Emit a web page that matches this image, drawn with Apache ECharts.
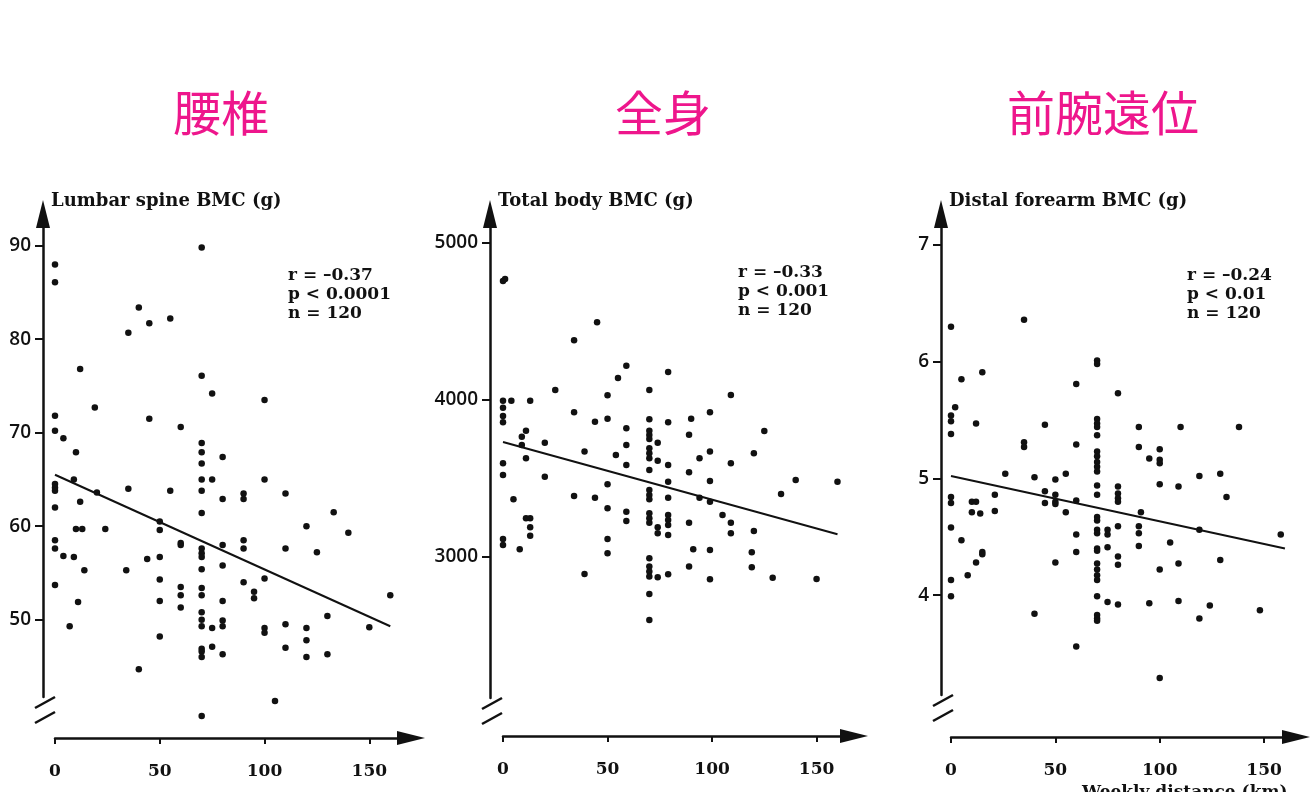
<!DOCTYPE html>
<html>
<head>
<meta charset="utf-8">
<title>BMC vs weekly distance</title>
<script src="https://cdn.jsdelivr.net/npm/echarts@6/dist/echarts.min.js"></script>
<style>
	*{
		margin:0;
		padding:0;
	}
	#main{
		width:1316px;
		height:792px;
		background:#fff;
	}
</style>
</head>
<body>
<div id="main"></div>
<script>
// 横轴刻度 (Weekly distance, km)
var distanceTicks = [0, 50, 100, 150];
// 纵轴刻度
var lumbarTicks = [50, 60, 70, 80, 90];
var totalTicks = [3000, 4000, 5000];
var forearmTicks = [4, 5, 6, 7];

var panelTitles = ['腰椎', '全身', '前腕遠位'];
var axisNames = ['Lumbar spine BMC (g)', 'Total body BMC (g)', 'Distal forearm BMC (g)'];
var lumbarStats = ['r = –0.37', 'p < 0.0001', 'n = 120'];
var totalStats = ['r = –0.33', 'p < 0.001', 'n = 120'];
var forearmStats = ['r = –0.24', 'p < 0.01', 'n = 120'];

// [km, g]
var lumbarPoints = [
	[70,89.8],[0,88.0],[0,86.1],[40,83.4],[45,81.7],[55,82.2],[35,80.7],[12,76.8],[70,76.1],[75,74.2],
	[100,73.5],[19,72.7],[0,71.8],[45,71.5],[60,70.6],[0,70.2],[4,69.4],[10,67.9],[70,68.9],[70,67.9],
	[70,66.7],[80,67.4],[70,65.0],[75,65.0],[100,65.0],[70,63.8],[55,63.8],[35,64.0],[9,65.0],[0,64.5],
	[0,64.1],[0,63.8],[0,62.0],[110,63.5],[90,63.5],[90,62.9],[80,62.9],[70,61.4],[133,61.5],[20,63.6],
	[12,62.6],[10,59.7],[13,59.7],[24,59.7],[50,60.5],[50,59.6],[60,58.2],[60,58.0],[70,57.6],[70,57.1],
	[70,56.7],[80,58.0],[90,58.5],[90,57.6],[120,60.0],[140,59.3],[110,57.6],[125,57.2],[0,58.5],[0,57.6],
	[4,56.8],[9,56.7],[14,55.3],[34,55.3],[44,56.5],[50,56.7],[70,55.4],[80,55.8],[0,53.7],[50,54.3],
	[60,53.5],[60,52.6],[70,53.4],[70,52.6],[90,54.0],[100,54.4],[95,53.0],[95,52.3],[11,51.9],[50,52.0],
	[60,51.3],[80,52.0],[160,52.6],[70,50.8],[70,50.0],[70,49.3],[75,49.1],[80,49.9],[80,49.3],[7,49.3],
	[130,50.4],[100,49.1],[100,48.6],[110,49.5],[120,49.1],[150,49.2],[50,48.2],[120,47.8],[70,46.9],[70,46.6],
	[70,46.0],[75,47.1],[80,46.3],[110,47.0],[120,46.0],[130,46.3],[40,44.7],[105,41.3],[70,39.7]
];
var lumbarFit = [[0, 65.5], [160, 49.3]];

var totalPoints = [
	[0,4756],[1,4769],[45,4492],[34,4378],[59,4216],[55,4137],[79,4176],[70,4061],[25,4061],[50,4027],
	[109,4029],[0,3993],[0,3948],[0,3895],[0,3855],[4,3993],[13,3993],[34,3919],[44,3859],[50,3878],
	[70,3874],[79,3855],[90,3878],[99,3919],[59,3817],[70,3801],[70,3774],[70,3749],[89,3776],[125,3800],
	[9,3763],[11,3801],[9,3710],[20,3725],[59,3710],[74,3725],[70,3689],[70,3657],[70,3625],[11,3625],
	[39,3668],[54,3647],[59,3583],[74,3610],[79,3583],[94,3625],[99,3668],[109,3594],[120,3657],[0,3594],
	[0,3519],[20,3508],[70,3551],[89,3536],[79,3476],[99,3481],[140,3487],[160,3476],[5,3364],[34,3385],
	[44,3374],[50,3460],[70,3423],[70,3392],[70,3364],[79,3374],[94,3374],[99,3349],[133,3398],[50,3307],
	[59,3285],[59,3226],[70,3275],[70,3243],[70,3215],[79,3264],[79,3232],[79,3200],[74,3186],[74,3147],
	[89,3215],[105,3264],[109,3215],[109,3147],[120,3162],[13,3243],[13,3186],[13,3132],[11,3243],[79,3137],
	[0,3111],[0,3073],[8,3045],[50,3111],[50,3020],[91,3045],[99,3041],[119,3026],[70,2988],[70,2935],
	[70,2903],[70,2871],[89,2935],[119,2931],[39,2888],[74,2867],[79,2886],[99,2854],[129,2864],[150,2856],
	[70,2760],[70,2595]
];
var totalFit = [[0, 3729], [160, 3141]];

var forearmPoints = [
	[0,6.30],[35,6.36],[70,6.01],[70,5.98],[5,5.85],[15,5.91],[60,5.81],[80,5.73],[2,5.61],[0,5.54],
	[0,5.49],[12,5.47],[45,5.46],[70,5.51],[70,5.47],[70,5.44],[90,5.44],[110,5.44],[138,5.44],[0,5.38],
	[70,5.37],[35,5.31],[35,5.27],[60,5.29],[90,5.27],[70,5.23],[70,5.19],[70,5.14],[70,5.10],[70,5.06],
	[100,5.25],[95,5.17],[100,5.16],[100,5.13],[26,5.04],[40,5.01],[55,5.04],[50,4.99],[70,4.94],[70,4.86],
	[119,5.02],[129,5.04],[100,4.95],[109,4.93],[80,4.93],[80,4.87],[80,4.83],[80,4.80],[132,4.84],[0,4.84],
	[0,4.79],[10,4.80],[12,4.80],[21,4.86],[45,4.89],[45,4.79],[50,4.86],[50,4.80],[50,4.78],[60,4.81],
	[10,4.71],[14,4.70],[21,4.72],[55,4.71],[91,4.71],[70,4.67],[70,4.64],[0,4.58],[60,4.52],[70,4.56],
	[70,4.53],[75,4.56],[75,4.52],[80,4.59],[90,4.59],[90,4.53],[119,4.56],[158,4.52],[5,4.47],[105,4.45],
	[75,4.41],[90,4.42],[70,4.40],[70,4.38],[15,4.37],[15,4.35],[60,4.37],[80,4.33],[80,4.26],[12,4.28],
	[50,4.28],[70,4.27],[70,4.22],[70,4.17],[70,4.13],[109,4.27],[129,4.30],[100,4.22],[8,4.17],[0,4.13],
	[0,3.99],[70,3.99],[75,3.94],[80,3.92],[95,3.93],[109,3.95],[124,3.91],[148,3.87],[40,3.84],[70,3.83],
	[70,3.80],[70,3.78],[119,3.80],[60,3.56],[100,3.29]
];
var forearmFit = [[0, 5.02], [160, 4.40]];

// 版面 (像素)
var layout = [
	{left:55,  top:214, width:356, height:483, xMax:169.9, yMin:41.73, yMax:93.39, yOff:12, xOff:41, titleX:221,  statX:288,  statY:266},
	{left:503, top:214, width:351, height:484, xMax:167.9, yMin:2097,  yMax:5183,  yOff:13, xOff:38, titleX:663,  statX:738,  statY:263},
	{left:951, top:214, width:345, height:481, xMax:165.3, yMin:3.144, yMax:7.266, yOff:10, xOff:42, titleX:1103, statX:1187, statY:266}
];
var yTicks = [lumbarTicks, totalTicks, forearmTicks];
var points = [lumbarPoints, totalPoints, forearmPoints];
var fits = [lumbarFit, totalFit, forearmFit];
var stats = [lumbarStats, totalStats, forearmStats];

var ink = '#111';
var pink = '#ee168c';

var grids = [], xAxes = [], yAxes = [], series = [], graphics = [];

function plainNum(v){
	return String(v);
}

for (var i = 0; i < 3; i++) {
	var p = layout[i];
	grids.push({left:p.left, top:p.top, width:p.width, height:p.height, containLabel:false});

	xAxes.push({
		gridIndex:i, type:'value', min:0, max:p.xMax, offset:p.xOff,
		axisLine:{show:true, onZero:false, symbol:['none','triangle'], symbolSize:[14,28],
			lineStyle:{color:ink, width:2.5}},
		axisTick:{show:true, length:6, customValues:distanceTicks, lineStyle:{color:ink, width:2}},
		axisLabel:{customValues:distanceTicks, margin:25, color:ink, formatter:plainNum,
			fontFamily:'DejaVu Serif', fontWeight:'bold', fontSize:17},
		splitLine:{show:false}
	});

	yAxes.push({
		gridIndex:i, type:'value', min:p.yMin, max:p.yMax, offset:p.yOff,
		name:axisNames[i], nameLocation:'end', nameGap:13,
		nameTextStyle:{align:'left', verticalAlign:'middle', padding:[0,0,0,8], color:ink,
			fontFamily:'DejaVu Serif', fontWeight:'bold', fontSize:18},
		axisLine:{show:true, onZero:false, symbol:['none','triangle'], symbolSize:[14,28],
			lineStyle:{color:ink, width:2.5}},
		axisTick:{show:true, length:8, customValues:yTicks[i], lineStyle:{color:ink, width:2}},
		axisLabel:{customValues:yTicks[i], margin:12, color:ink, formatter:plainNum,
			fontFamily:'Open Sans', fontWeight:600, fontSize:19},
		splitLine:{show:false}
	});

	series.push({
		type:'scatter', xAxisIndex:i, yAxisIndex:i, data:points[i],
		symbolSize:6.5, itemStyle:{color:ink, opacity:1}, clip:false, silent:true
	});
	series.push({
		type:'line', xAxisIndex:i, yAxisIndex:i, data:fits[i],
		symbol:'none', lineStyle:{color:ink, width:2}, clip:false, silent:true
	});

	// 标题
	graphics.push({
		type:'text', x:p.titleX, y:113,
		style:{text:panelTitles[i], fill:pink, font:'48px "Noto Sans CJK JP"',
			align:'center', verticalAlign:'middle', textAlign:'center', textVerticalAlign:'middle'}
	});
	// r, p, n
	graphics.push({
		type:'text', x:p.statX, y:p.statY,
		style:{text:stats[i].join('\n'), fill:ink, font:'bold 17px "DejaVu Serif"', lineHeight:19,
			align:'left', verticalAlign:'top', textAlign:'left', textVerticalAlign:'top'}
	});
	// 纵轴断开记号 //
	var ax = p.left - p.yOff, by = p.top + p.height;
	graphics.push({type:'line', shape:{x1:ax-8, y1:by+11, x2:ax+12, y2:by}, style:{stroke:ink, lineWidth:2.5}});
	graphics.push({type:'line', shape:{x1:ax-8, y1:by+26, x2:ax+12, y2:by+15}, style:{stroke:ink, lineWidth:2.5}});
}

graphics.push({
	type:'text', x:1082, y:784,
	style:{text:'Weekly distance (km)', fill:ink, font:'bold 17px "DejaVu Serif"',
		align:'left', verticalAlign:'top', textAlign:'left', textVerticalAlign:'top'}
});

var myChart = echarts.init(document.getElementById('main'));
var option = {
	backgroundColor:'#fff',
	animation:false,
	grid:grids,
	xAxis:xAxes,
	yAxis:yAxes,
	series:series,
	graphic:graphics
};
myChart.setOption(option);
</script>
</body>
</html>
